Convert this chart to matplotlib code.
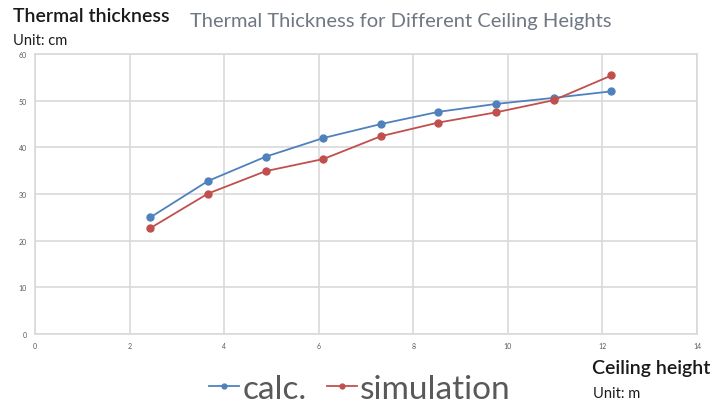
import numpy as np
import matplotlib.pyplot as plt

plt.rcParams['font.family'] = ['Lato', 'DejaVu Sans']

# ceiling heights (m) and thermal thickness (cm)
ceiling_height = [2.44, 3.66, 4.88, 6.10, 7.32, 8.53, 9.75, 10.97, 12.19]
calc = [25.0, 32.8, 38.0, 42.0, 45.0, 47.6, 49.3, 50.6, 52.0]
simulation = [22.7, 30.1, 34.9, 37.5, 42.4, 45.3, 47.5, 50.1, 55.4]

blue = '#4F81BD'
red = '#C0504D'

fig = plt.figure(figsize=(7.12, 4.06), dpi=100)
ax = fig.add_axes([35/712, 1 - 335/406, 662/712, 280/406])

ax.plot(ceiling_height, calc, color=blue, marker='o', markersize=5, linewidth=1.3, label='calc.')
ax.plot(ceiling_height, simulation, color=red, marker='o', markersize=5, linewidth=1.3, label='simulation')

ax.set_xlim(0, 14)
ax.set_ylim(0, 60)
ax.set_xticks(np.arange(0, 15, 2))
ax.set_yticks(np.arange(0, 61, 10))
ax.grid(True, color='#D9D9D9', linewidth=1.2)
ax.set_axisbelow(True)
for s in ax.spines.values():
    s.set_color('#D9D9D9')
    s.set_linewidth(1.2)
ax.tick_params(length=0, labelsize=5, colors='#595959', pad=6)

fig.text(190/712, 1 - 22/406, 'Thermal Thickness for Different Ceiling Heights',
         fontsize=14.5, color='#6E7782', va='center', ha='left')
fig.text(13/712, 1 - 16/406, 'Thermal thickness', fontsize=14, color='#1a1a1a',
         va='center', ha='left', fontweight='semibold')
fig.text(13/712, 1 - 41/406, 'Unit: cm', fontsize=10.5, color='#1a1a1a', va='center', ha='left')
fig.text(592/712, 1 - 369/406, 'Ceiling height', fontsize=14, color='#1a1a1a',
         va='center', ha='left', fontweight='semibold')
fig.text(593/712, 1 - 394/406, 'Unit: m', fontsize=10.5, color='#1a1a1a', va='center', ha='left')

leg = fig.legend(loc='center', bbox_to_anchor=(360/712, 1 - 390/406), ncol=2, frameon=False,
                 fontsize=24, handlelength=0.9, handletextpad=0.1, columnspacing=0.6,
                 markerscale=0.7, borderpad=0)
for t in leg.get_texts():
    t.set_color('#595959')

fig.savefig('out.png', dpi=100)
